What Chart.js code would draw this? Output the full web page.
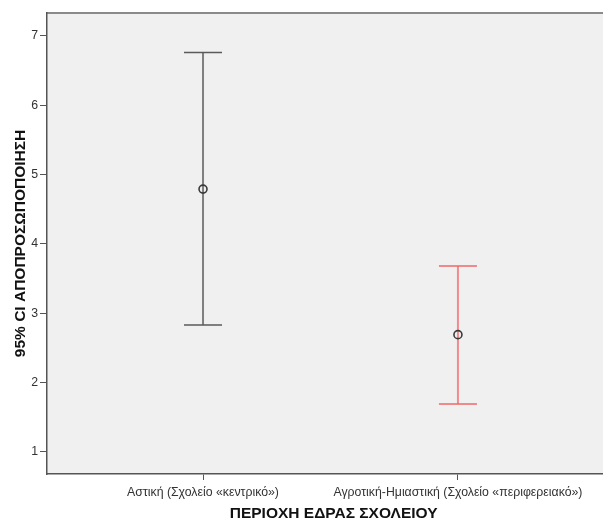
<!DOCTYPE html>
<html>
<head>
<meta charset="utf-8">
<script src="https://cdn.jsdelivr.net/npm/chart.js@4"></script>
<style>
html,body{margin:0;padding:0;background:#fff;}
#wrap{width:603px;height:523px;}
</style>
</head>
<body>
<div id="wrap"><canvas id="c" width="603" height="523"></canvas></div>
<script>
const categories = ['Αστική (Σχολείο «κεντρικό»)', 'Αγροτική-Ημιαστική (Σχολείο «περιφερειακό»)'];
const means = [4.79, 2.69];
const lowerCI = [2.83, 1.69];
const upperCI = [6.76, 3.68];
const yTicks = [1, 2, 3, 4, 5, 6, 7];
const barColors = ['#7f7f7f', '#f28b8b'];
const capColors = ['#5a5a5a', '#f06868'];
const xTitle = '\u00A0\u00A0\u00A0\u00A0ΠΕΡΙΟΧΗ ΕΔΡΑΣ ΣΧΟΛΕΙΟΥ';
const yTitle = '95% CI ΑΠΟΠΡΟΣΩΠΟΠΟΙΗΣΗ';

const FONT = '"Liberation Sans", Arial, sans-serif';

const bgPlugin = {
  id: 'bg',
  beforeDraw(chart) {
    const {ctx, chartArea: a} = chart;
    ctx.save();
    ctx.fillStyle = '#f0f0f0';
    ctx.fillRect(a.left, a.top, a.right - a.left, a.bottom - a.top);
    ctx.strokeStyle = '#8a8a8a';
    ctx.lineWidth = 2;
    ctx.beginPath();
    ctx.moveTo(a.left, a.top);
    ctx.lineTo(a.right, a.top);
    ctx.stroke();
    ctx.restore();
  }
};

const errPlugin = {
  id: 'err',
  beforeDatasetsDraw(chart) {
    const {ctx, scales: {x, y}} = chart;
    ctx.save();
    categories.forEach((c, i) => {
      const px = x.getPixelForValue(i + 1);
      const yl = y.getPixelForValue(lowerCI[i]);
      const yu = y.getPixelForValue(upperCI[i]);
      const half = 19;
      ctx.strokeStyle = barColors[i];
      ctx.lineWidth = 2;
      ctx.beginPath();
      ctx.moveTo(px, yl);
      ctx.lineTo(px, yu);
      ctx.stroke();
      ctx.strokeStyle = capColors[i];
      ctx.lineWidth = 1.5;
      ctx.beginPath();
      ctx.moveTo(px - half, yu);
      ctx.lineTo(px + half, yu);
      ctx.moveTo(px - half, yl);
      ctx.lineTo(px + half, yl);
      ctx.stroke();
    });
    ctx.restore();
  }
};

new Chart(document.getElementById('c'), {
  type: 'scatter',
  data: {
    datasets: [{
      data: means.map((m, i) => ({x: i + 1, y: m})),
      pointStyle: 'circle',
      pointRadius: 4,
      pointHoverRadius: 4,
      borderColor: '#3a3a3a',
      backgroundColor: 'rgba(0,0,0,0)',
      borderWidth: 1.6
    }]
  },
  options: {
    responsive: false,
    animation: false,
    events: [],
    layout: {autoPadding: false, padding: {top: 13, right: 0, left: 0, bottom: 0}},
    plugins: {legend: {display: false}, tooltip: {enabled: false}},
    scales: {
      x: {
        type: 'linear',
        min: 0.388,
        max: 2.569,
        afterBuildTicks(s) { s.ticks = categories.map((c, i) => ({value: i + 1})); },
        afterFit(s) { s.height = 49; },
        ticks: {
          callback: v => categories[v - 1],
          font: {family: FONT, size: 12.3},
          color: '#333',
          padding: 5,
          maxRotation: 0,
          autoSkip: false
        },
        grid: {drawOnChartArea: false, drawTicks: true, tickLength: 6, color: '#555', lineWidth: 1},
        border: {display: true, color: '#555', width: 1.5},
        title: {display: true, text: xTitle, font: {family: FONT, size: 15.5, weight: 'bold'}, color: '#111', padding: {top: 2, bottom: 0}}
      },
      y: {
        type: 'linear',
        min: 0.68,
        max: 7.33,
        afterBuildTicks(s) { s.ticks = yTicks.map(v => ({value: v})); },
        afterFit(s) { s.width = 47; },
        ticks: {
          font: {family: FONT, size: 12.3},
          color: '#333',
          padding: 2
        },
        grid: {drawOnChartArea: false, drawTicks: true, tickLength: 7, color: '#555', lineWidth: 1},
        border: {display: true, color: '#555', width: 1.5},
        title: {display: true, text: yTitle, font: {family: FONT, size: 15.5, weight: 'bold'}, color: '#111', padding: {top: 11, bottom: 0}}
      }
    }
  },
  plugins: [bgPlugin, errPlugin]
});
</script>
</body>
</html>
